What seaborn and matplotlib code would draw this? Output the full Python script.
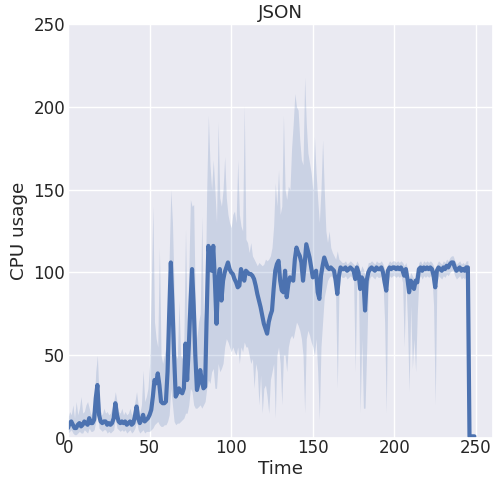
import numpy as np
import pandas as pd
import seaborn as sns
import matplotlib
matplotlib.use("Agg")
import matplotlib.pyplot as plt

# Mean CPU usage per time step (t = 0 .. 249)
cpu_mean = [
    6, 9, 10, 8, 6, 6, 8, 9, 7, 8,
    10, 9, 8, 12, 9, 9, 11, 24, 32, 14,
    10, 9, 10, 10, 8, 9, 8, 9, 12, 21,
    14, 10, 9, 10, 9, 10, 8, 9, 10, 8,
    9, 13, 19, 12, 9, 11, 14, 10, 11, 12,
    14, 17, 25, 35, 33, 39, 32, 22, 21, 21,
    22, 40, 75, 106, 80, 50, 25, 27, 30, 28,
    27, 30, 57, 35, 55, 80, 102, 80, 50, 29,
    33, 41, 35, 30, 31, 75, 116, 108, 101, 116,
    95, 69, 95, 102, 83, 95, 100, 103, 106, 102,
    100, 99, 96, 94, 91, 92, 102, 98, 95, 101,
    100, 99, 99, 98, 96, 92, 87, 83, 79, 74,
    69, 66, 63, 70, 74, 77, 90, 101, 105, 107,
    95, 89, 88, 101, 85, 93, 97, 96, 95, 108,
    115, 112, 110, 106, 95, 105, 117, 113, 109, 103,
    97, 99, 101, 88, 84, 98, 104, 109, 106, 103,
    102, 103, 102, 101, 95, 87, 98, 103, 102, 102,
    103, 101, 102, 103, 102, 101, 96, 103, 100, 90,
    97, 95, 77, 95, 100, 102, 103, 102, 101, 103,
    102, 102, 103, 100, 94, 89, 101, 103, 102, 103,
    103, 102, 103, 102, 103, 101, 98, 102, 96, 88,
    95, 93, 90, 95, 94, 102, 103, 101, 103, 102,
    103, 102, 103, 102, 98, 91, 101, 103, 102, 101,
    103, 102, 104, 103, 105, 106, 106, 103, 101, 102,
    103, 101, 102, 101, 103, 103, 1, 1, 1, 1,
]

# Lower bound of the confidence band
cpu_low = [
    3, 4, 5, 3, 2, 2, 3, 4, 3, 3,
    5, 4, 3, 6, 4, 4, 5, 10, 16, 6,
    5, 4, 5, 5, 3, 4, 3, 4, 5, 12,
    6, 5, 4, 5, 4, 5, 3, 4, 5, 3,
    4, 6, 10, 5, 3, 4, 5, 3, 4, 4,
    4, 5, 6, 8, 9, 10, 8, 7, 7, 8,
    8, 10, 14, 30, 20, 10, 8, 9, 9, 10,
    11, 12, 15, 15, 20, 30, 28, 20, 18, 18,
    19, 20, 18, 20, 22, 30, 35, 33, 40, 42,
    30, 30, 45, 40, 42, 45, 55, 60, 58, 55,
    52, 55, 52, 50, 55, 45, 55, 52, 58, 55,
    55, 50, 45, 48, 30, 45, 40, 20, 38, 15,
    30, 32, 25, 15, 35, 40, 45, 12, 50, 55,
    45, 20, 50, 50, 40, 55, 60, 62, 60, 65,
    70, 68, 65, 60, 50, 15, 60, 65, 62, 58,
    55, 50, 60, 40, 11, 55, 70, 85, 90, 95,
    97, 98, 97, 96, 85, 30, 88, 98, 97, 97,
    98, 96, 97, 98, 97, 95, 40, 97, 92, 15,
    60, 18, 18, 53, 92, 97, 98, 97, 96, 98,
    97, 97, 98, 94, 70, 15, 94, 98, 97, 98,
    98, 97, 98, 97, 98, 94, 55, 96, 70, 28,
    80, 42, 60, 40, 75, 96, 98, 96, 98, 97,
    98, 97, 98, 97, 80, 20, 94, 98, 97, 96,
    98, 97, 99, 98, 100, 101, 101, 98, 96, 97,
    98, 96, 97, 96, 98, 98, 1, 1, 1, 1,
]

# Upper bound of the confidence band
cpu_high = [
    12, 16, 14, 20, 12, 22, 14, 18, 25, 15,
    16, 20, 22, 18, 14, 16, 20, 40, 50, 25,
    16, 14, 18, 15, 16, 14, 15, 18, 22, 28,
    22, 16, 15, 18, 14, 16, 14, 15, 18, 14,
    16, 22, 28, 20, 15, 20, 41, 22, 25, 30,
    45, 90, 140, 70, 60, 55, 115, 50, 45, 50,
    55, 75, 110, 150, 130, 90, 50, 48, 83, 50,
    48, 60, 126, 70, 100, 144, 140, 141, 80, 60,
    70, 75, 134, 70, 80, 150, 195, 165, 150, 168,
    150, 130, 191, 145, 140, 150, 170, 145, 135, 130,
    127, 135, 137, 130, 168, 135, 128, 125, 201, 120,
    118, 112, 118, 110, 108, 106, 104, 106, 105, 104,
    105, 108, 107, 108, 110, 115, 128, 154, 140, 162,
    135, 140, 195, 150, 144, 152, 150, 175, 190, 208,
    200, 198, 180, 168, 165, 218, 190, 172, 166, 160,
    150, 182, 160, 144, 130, 150, 180, 150, 125, 118,
    125, 115, 112, 110, 108, 113, 108, 107, 106, 106,
    107, 105, 106, 107, 106, 105, 104, 107, 105, 100,
    104, 102, 98, 102, 106, 106, 107, 106, 105, 107,
    106, 106, 107, 105, 102, 98, 105, 107, 106, 107,
    107, 106, 107, 106, 107, 106, 104, 106, 102, 96,
    100, 98, 96, 100, 100, 106, 107, 105, 107, 106,
    107, 106, 107, 106, 104, 97, 105, 107, 106, 105,
    107, 106, 108, 107, 109, 110, 110, 107, 105, 106,
    107, 105, 106, 105, 107, 107, 1, 1, 1, 1,
]

time = np.arange(len(cpu_mean))
df = pd.DataFrame({"Time": time, "CPU usage": cpu_mean,
                   "low": cpu_low, "high": cpu_high})

sns.set_theme(style="darkgrid", font_scale=1.1)
color = sns.color_palette("deep")[0]

fig = plt.figure(figsize=(4.93, 4.84), dpi=100)
ax = fig.add_axes([68 / 493, 1 - 438 / 484, 1 - 68 / 493, (438 - 24) / 484])

ax.fill_between(df["Time"], df["low"], df["high"], color=color,
                alpha=0.2, linewidth=0)
sns.lineplot(data=df, x="Time", y="CPU usage", color=color,
             linewidth=3, ax=ax)

ax.set_xlim(0, 260.4)
ax.set_ylim(0, 250)
ax.set_xticks([0, 50, 100, 150, 200, 250])
ax.set_yticks([0, 50, 100, 150, 200, 250])
ax.tick_params(axis="x", pad=1, length=0)
ax.tick_params(axis="y", pad=2, length=0)
ax.set_title("JSON", pad=4)
ax.set_xlabel("Time", labelpad=2)
ax.set_ylabel("CPU usage", labelpad=4)

fig.savefig("out.png", dpi=100)
